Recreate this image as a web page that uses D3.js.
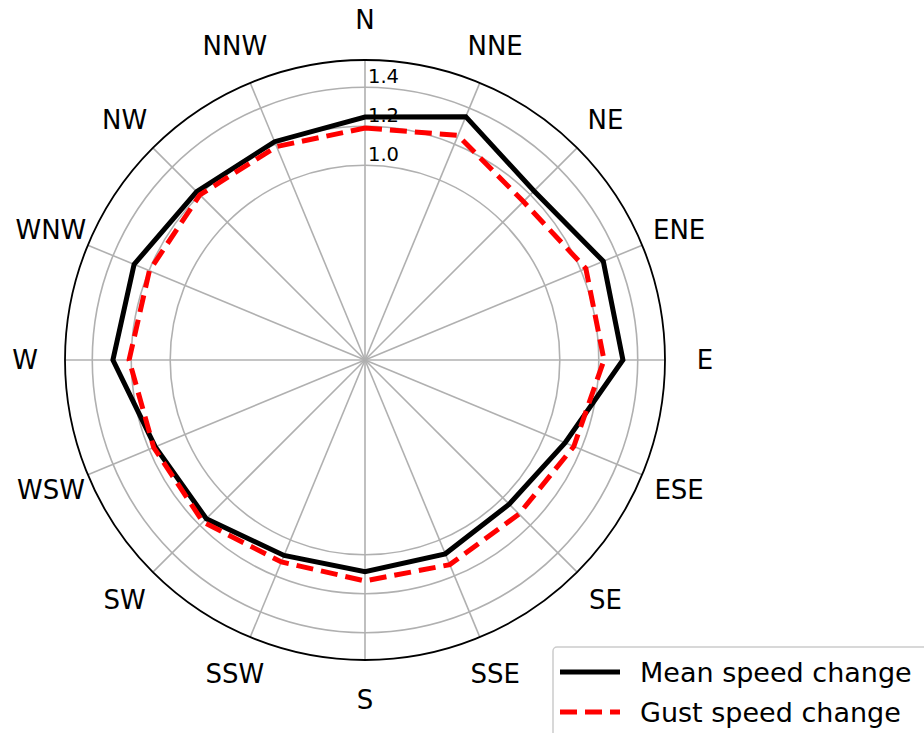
<!DOCTYPE html>
<html>
<head>
<meta charset="utf-8">
<script src="https://cdn.jsdelivr.net/npm/d3@7"></script>
<style>
  body { margin: 0; background: #fff; }
  text { font-family: "DejaVu Sans", sans-serif; fill: #000; }
</style>
</head>
<body>
<svg id="chart"></svg>
<script>
// wind sectors, clockwise from north
const directions = ["N", "NNE", "NE", "ENE", "E", "ESE", "SE", "SSE",
                    "S", "SSW", "SW", "WSW", "W", "WNW", "NW", "NNW"];
const meanChange = [1.247, 1.352, 1.227, 1.324, 1.324, 1.111, 1.047, 1.077,
                    1.087, 1.086, 1.152, 1.165, 1.294, 1.283, 1.222, 1.213];
const gustChange = [1.191, 1.248, 1.150, 1.227, 1.227, 1.160, 1.118, 1.137,
                    1.134, 1.122, 1.176, 1.174, 1.211, 1.198, 1.199, 1.186];
const radialTicks = [1.0, 1.2, 1.4];
const seriesNames = ["Mean speed change", "Gust speed change"];

const width = 924;
const height = 733;
const cx = 365, cy = 360;
const outerR = 300;

const svg = d3.select("#chart")
    .attr("width", width)
    .attr("height", height);

const r = d3.scaleLinear().domain([0, 1.54]).range([0, outerR]);
const angle = d3.scaleLinear().domain([0, directions.length]).range([0, 2 * Math.PI]);

const g = svg.append("g").attr("transform", `translate(${cx},${cy})`);

// grid circles
g.selectAll(".rgrid")
    .data(radialTicks)
    .enter().append("circle")
    .attr("r", d => r(d))
    .attr("fill", "none")
    .attr("stroke", "#b0b0b0")
    .attr("stroke-width", 1.6);

// spokes
g.selectAll(".spoke")
    .data(directions)
    .enter().append("line")
    .attr("x1", 0).attr("y1", 0)
    .attr("x2", (d, i) => outerR * Math.sin(angle(i)))
    .attr("y2", (d, i) => -outerR * Math.cos(angle(i)))
    .attr("stroke", "#b0b0b0")
    .attr("stroke-width", 1.6);

// outer frame
g.append("circle")
    .attr("r", outerR)
    .attr("fill", "none")
    .attr("stroke", "#000")
    .attr("stroke-width", 1.8);

// radial tick labels
g.selectAll(".rlabel")
    .data(radialTicks)
    .enter().append("text")
    .attr("x", 3)
    .attr("y", d => -r(d) - 11)
    .attr("dominant-baseline", "central")
    .style("font-size", "19.5px")
    .text(d => d.toFixed(1));

// direction labels
g.selectAll(".dlabel")
    .data(directions)
    .enter().append("text")
    .attr("x", (d, i) => 340 * Math.sin(angle(i)))
    .attr("y", (d, i) => -340 * Math.cos(angle(i)))
    .attr("text-anchor", "middle")
    .attr("dominant-baseline", "central")
    .style("font-size", "26px")
    .text(d => d);

const radial = d3.lineRadial()
    .angle((d, i) => angle(i))
    .radius(d => r(d))
    .curve(d3.curveLinearClosed);

g.append("path")
    .datum(meanChange)
    .attr("d", radial)
    .attr("fill", "none")
    .attr("stroke", "#000")
    .attr("stroke-width", 5)
    .attr("stroke-linejoin", "miter");

g.append("path")
    .datum(gustChange)
    .attr("d", radial)
    .attr("fill", "none")
    .attr("stroke", "#ff0000")
    .attr("stroke-width", 5)
    .attr("stroke-dasharray", "17,8");

// legend
const legend = svg.append("g");
legend.append("rect")
    .attr("x", 553).attr("y", 647)
    .attr("width", 390).attr("height", 110)
    .attr("rx", 4)
    .attr("fill", "#fff")
    .attr("fill-opacity", 0.8)
    .attr("stroke", "#cccccc")
    .attr("stroke-width", 1.5);

const styles = [{ color: "#000", dash: null }, { color: "#ff0000", dash: "17,8" }];
seriesNames.forEach((name, i) => {
    const y = 672 + i * 40;
    legend.append("line")
        .attr("x1", 560).attr("x2", 620)
        .attr("y1", y).attr("y2", y)
        .attr("stroke", styles[i].color)
        .attr("stroke-width", 5)
        .attr("stroke-dasharray", styles[i].dash);
    legend.append("text")
        .attr("x", 640).attr("y", y)
        .attr("dominant-baseline", "central")
        .style("font-size", "27px")
        .text(name);
});
</script>
</body>
</html>
